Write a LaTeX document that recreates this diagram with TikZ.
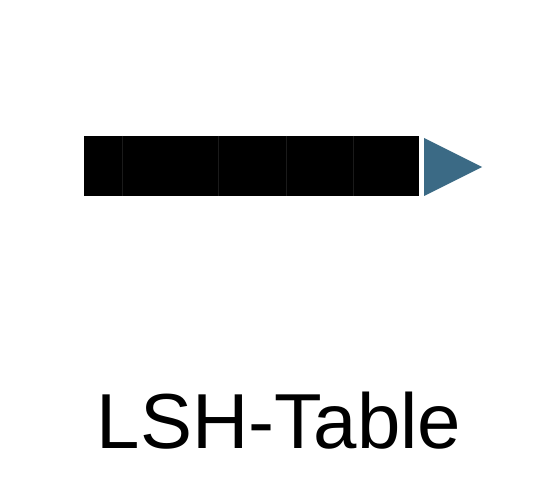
\documentclass[tikz,border=0pt]{standalone}
\usepackage{fontspec}
\setmainfont{Liberation Sans}
\definecolor{tipblue}{HTML}{3B6A85}
\definecolor{divgray}{HTML}{1A1A1A}
\tikzset{
  barbox/.style={fill=black, draw=none},
  divline/.style={draw=divgray, line width=0.6pt},
  tiptri/.style={fill=tipblue, draw=none},
  labeltext/.style={font=\fontsize{78}{90}\selectfont, inner sep=0pt, anchor=base}
}
\begin{document}
\begin{tikzpicture}[x=1pt,y=-1pt]
\useasboundingbox (0,0) rectangle (544,484);
\fill[white] (0,0) rectangle (544,484);
\coordinate (b0) at (84,136);
\coordinate (b1) at (419,196);
\path[barbox] (b0) rectangle (b1);
\foreach \xx in {122,218,286,353}{
  \draw[divline] (\xx,136) -- (\xx,196);
}
\coordinate (t1) at (424,138);
\coordinate (t2) at (482,167);
\coordinate (t3) at (424,196);
\path[tiptri] (t1) -- (t2) -- (t3) -- cycle;
\node[labeltext] (lbl) at (279,448) {LSH-Table};
\end{tikzpicture}
\end{document}
